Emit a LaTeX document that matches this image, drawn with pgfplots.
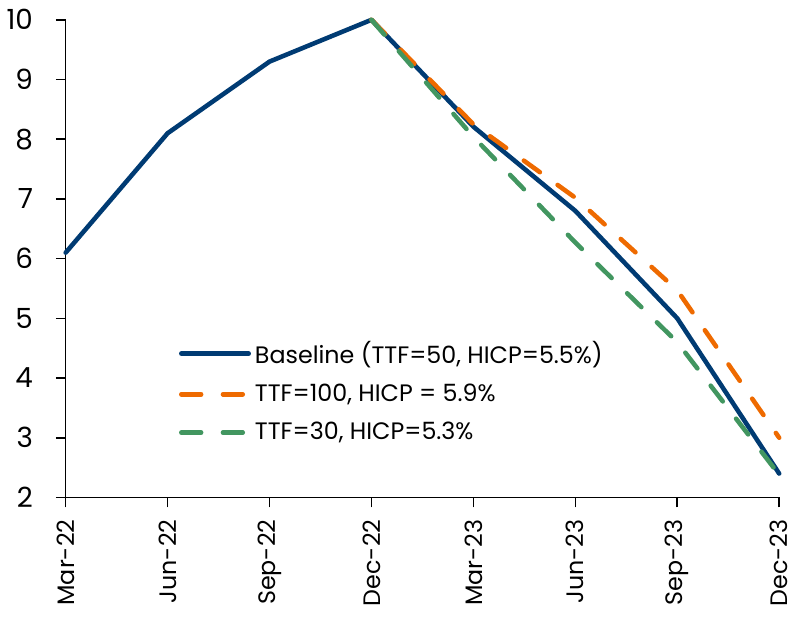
\documentclass[border=0pt]{standalone}
\usepackage{fontspec}
\setmainfont{Poppins}
\usepackage{pgfplots}
\pgfplotsset{compat=1.18}

\definecolor{basenavy}{RGB}{0,59,115}
\definecolor{hiorange}{RGB}{238,106,0}
\definecolor{logreen}{RGB}{66,150,96}

\begin{document}
\begin{tikzpicture}
\begin{axis}[
  scale only axis,
  width=360pt, height=241pt,
  xmin=0, xmax=7, ymin=2, ymax=10,
  axis x line*=bottom, axis y line*=left,
  axis line style={line width=0.8pt, -},
  xtick={0,...,7},
  xticklabels={Mar-22,Jun-22,Sep-22,Dec-22,Mar-23,Jun-23,Sep-23,Dec-23},
  xticklabel style={rotate=90, anchor=east, inner xsep=6pt, inner ysep=1pt,
    font=\fontsize{12}{14}\selectfont},
  ytick={2,...,10},
  yticklabel style={font=\fontsize{14}{16}\selectfont, xshift=-8pt},
  /pgf/number format/assume math mode=true,
  tick style={black, line width=0.8pt},
  tick align=outside,
  major tick length=5pt,
  clip=false,
  legend cell align=left,
  legend style={draw=none, fill=none, at={(0.15,0.345)}, anchor=north west,
    font=\fontsize{12}{14}\selectfont, row sep=5pt,
    /tikz/every even column/.append style={column sep=2pt}},
  legend image code/.code={\draw[#1] (0pt,0pt) -- (34pt,0pt);},
]
\addplot[basenavy, line width=2.3pt, line cap=round, line join=round]
  coordinates {(0,6.1) (1,8.1) (2,9.3) (3,10) (4,8.21) (5,6.8) (6,5.0) (7,2.4)};
\addlegendentry{Baseline (TTF=50, HICP=5.5\%)}
\addplot[hiorange, line width=2.3pt, line cap=round, dash pattern=on 10pt off 11pt]
  coordinates {(3,10) (4,8.25) (5,7.02) (6,5.47) (7,3.0)};
\addlegendentry{TTF=100, HICP = 5.9\%}
\addplot[logreen, line width=2.3pt, line cap=round, dash pattern=on 10pt off 11pt]
  coordinates {(3,10) (4,8.04) (5,6.27) (6,4.6) (7,2.38)};
\addlegendentry{TTF=30, HICP=5.3\%}
\end{axis}
% keep a little white space around the outer tick labels
\path (current axis.north west) ++(0pt,10pt);
\path (current axis.south east) ++(9pt,0pt);
\end{tikzpicture}
\end{document}
